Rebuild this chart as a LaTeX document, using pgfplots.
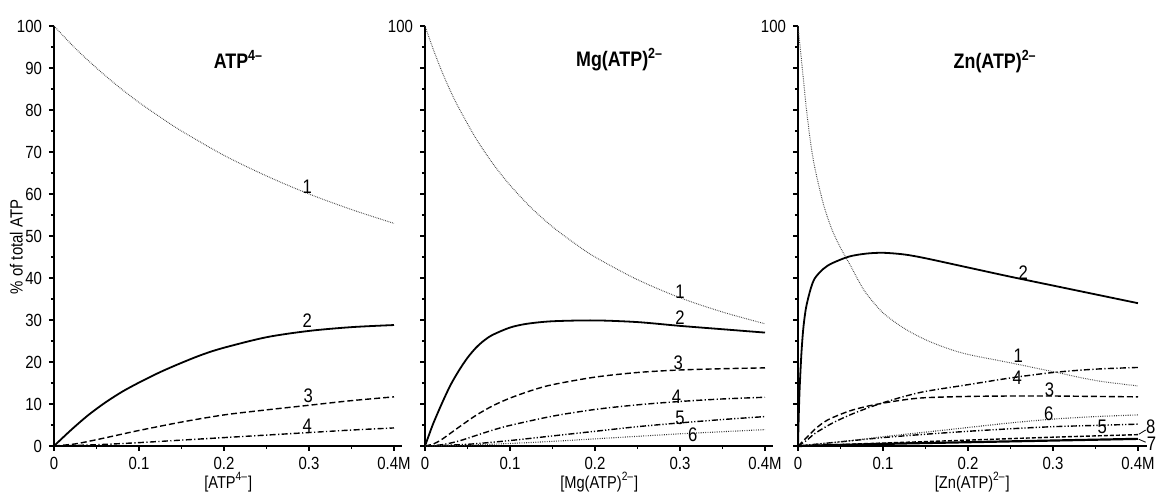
\documentclass[border=0pt]{standalone}
\usepackage{fontspec}
\setmainfont{Liberation Sans}[FakeStretch=0.85]
\usepackage{pgfplots}
\pgfplotsset{compat=1.18}

\tikzset{
  lab/.style={font=\fontsize{9.8}{10}\selectfont, inner sep=0pt},
  ttl/.style={font=\bfseries\fontsize{10.5}{11}\selectfont},
}
\pgfplotsset{
  panel/.style={
    scale only axis, width=174.25pt, height=210pt,
    xmin=0, xmax=0.41, ymin=0, ymax=100,
    axis lines=left, axis line style={-, line width=1pt},
    tick align=outside, major tick length=2.5pt, minor tick length=1.6pt,
    every tick/.style={black, line width=0.7pt},
    xtick={0,0.1,0.2,0.3,0.4}, xticklabels={0,0.1,0.2,0.3,0.4M},
    minor xtick={0.05,0.15,0.25,0.35},
    ytick={0,10,...,100}, minor ytick={5,15,...,95},
    tick label style={font=\fontsize{8.8}{9}\selectfont},
    xticklabel style={inner sep=0.5pt, yshift=-2.5pt},
    /pgf/number format/assume math mode=true,
    clip=false, anchor=south west,
    xlabel style={at={(axis description cs:0.5,-0.086)}, anchor=center, inner sep=0pt, font=\fontsize{8.6}{9}\selectfont},
  },
  c1/.style={black!75, line width=0.5pt, dash pattern=on 0.35pt off 0.55pt, smooth},
  c2/.style={black, line width=0.9pt, smooth},
  c3/.style={black, line width=0.7pt, dash pattern=on 3pt off 1.5pt, smooth},
  c4/.style={black, line width=0.7pt, dash pattern=on 3pt off 1.2pt on 0.6pt off 1.2pt, smooth},
  c5/.style={black, line width=0.7pt, dash pattern=on 3pt off 1pt on 0.6pt off 1pt on 0.6pt off 1pt, smooth},
  c6/.style={black!80, line width=0.55pt, dash pattern=on 0.45pt off 0.7pt, smooth},
  c7/.style={black, line width=1.1pt, smooth},
  c8/.style={black, line width=0.7pt, dash pattern=on 2pt off 1pt, smooth},
}

\begin{document}
\begin{tikzpicture}
\useasboundingbox (0,0) rectangle (578pt,246pt);

% ---------------- ATP4- ----------------
\begin{axis}[panel, at={(27pt,23pt)}, xlabel={[ATP\textsuperscript{4–}]}]
\addplot[c1] coordinates {(0,100)(0.025,94.7)(0.05,90.0)(0.075,85.7)(0.1,81.8)(0.125,78.3)(0.15,75.0)(0.2,69.2)(0.25,64.3)(0.3,60.0)(0.35,56.3)(0.4,53.0)};
\addplot[c2] coordinates {(0,0)(0.02,3.8)(0.04,7.3)(0.06,10.3)(0.08,12.9)(0.1,15.1)(0.125,17.6)(0.15,19.8)(0.175,21.8)(0.2,23.4)(0.25,25.9)(0.3,27.4)(0.35,28.3)(0.4,28.8)};
\addplot[c3] coordinates {(0,0)(0.025,0.5)(0.05,1.5)(0.075,2.6)(0.1,3.7)(0.15,5.7)(0.2,7.4)(0.25,8.6)(0.3,9.7)(0.35,10.8)(0.4,11.7)};
\addplot[c4] coordinates {(0,0)(0.05,0.3)(0.1,0.8)(0.15,1.4)(0.2,2.0)(0.25,2.6)(0.3,3.2)(0.35,3.8)(0.4,4.3)};
\node[lab] at (axis cs:0.298,61.7) {1};
\node[lab] at (axis cs:0.298,29.8) {2};
\node[lab] at (axis cs:0.299,12.0) {3};
\node[lab] at (axis cs:0.298,4.8) {4};
\node[ttl] at (axis cs:0.217,92) {ATP\textsuperscript{4–}};
\node[rotate=90, font=\fontsize{8.8}{9}\selectfont] at (axis description cs:-0.108,0.474) {\% of total ATP};
\end{axis}

% ---------------- Mg(ATP)2- ----------------
\begin{axis}[panel, at={(212.5pt,23pt)}, yticklabels={,,,,,,,,,,100}, xlabel={[Mg(ATP)\textsuperscript{2–}]}]
\addplot[c1] coordinates {(0,100)(0.01,94.3)(0.02,89.1)(0.03,84.5)(0.04,80.4)(0.06,73.2)(0.08,67.2)(0.1,62.1)(0.125,56.7)(0.15,52.2)(0.175,48.4)(0.2,45.0)(0.25,39.6)(0.3,35.3)(0.35,31.9)(0.4,29.1)};
\addplot[c2] coordinates {(0,0)(0.005,2.8)(0.01,5.5)(0.02,10.2)(0.03,14.5)(0.04,18.0)(0.05,21.0)(0.06,23.4)(0.07,25.2)(0.08,26.5)(0.1,28.2)(0.12,29.1)(0.15,29.7)(0.2,29.9)(0.25,29.5)(0.3,28.6)(0.35,27.8)(0.4,27.0)};
\addplot[c3] coordinates {(0,0)(0.01,0.5)(0.02,1.6)(0.04,4.5)(0.06,7.3)(0.08,9.6)(0.1,11.4)(0.125,13.2)(0.15,14.6)(0.2,16.4)(0.25,17.5)(0.3,18.1)(0.35,18.4)(0.4,18.6)};
\addplot[c4] coordinates {(0,0)(0.02,0.3)(0.04,1.2)(0.06,2.5)(0.08,3.8)(0.1,4.9)(0.15,7.1)(0.2,8.7)(0.25,9.8)(0.3,10.6)(0.35,11.2)(0.4,11.6)};
\addplot[c5] coordinates {(0,0)(0.05,0.4)(0.1,1.3)(0.15,2.4)(0.2,3.5)(0.25,4.6)(0.3,5.5)(0.35,6.3)(0.4,7.0)};
\addplot[c6] coordinates {(0,0)(0.05,0.2)(0.1,0.6)(0.15,1.1)(0.2,1.7)(0.25,2.3)(0.3,2.9)(0.35,3.4)(0.4,3.9)};
\node[lab] at (axis cs:0.3,36.7) {1};
\node[lab] at (axis cs:0.3,30.5) {2};
\node[lab] at (axis cs:0.298,19.8) {3};
\node[lab] at (axis cs:0.296,11.7) {4};
\node[lab] at (axis cs:0.3,6.7) {5};
\node[lab] at (axis cs:0.315,2.6) {6};
\node[ttl] at (axis cs:0.229,92) {Mg(ATP)\textsuperscript{2–}};
\end{axis}

% ---------------- Zn(ATP)2- ----------------
\begin{axis}[panel, at={(399pt,23pt)}, yticklabels={,,,,,,,,,,100}, xlabel={[Zn(ATP)\textsuperscript{2–}]}]
\addplot[c1] coordinates {(0,100)(0.002,96)(0.005,90)(0.0075,85)(0.01,80)(0.015,72)(0.02,66)(0.03,57.5)(0.04,51.5)(0.05,47.2)(0.06,43.6)(0.07,39.8)(0.08,36.4)(0.1,31.7)(0.125,28.0)(0.15,25.3)(0.175,23.3)(0.2,21.8)(0.25,19.8)(0.3,17.7)(0.35,15.6)(0.4,14.3)};
\addplot[c2] coordinates {(0,0)(0.001,8)(0.002,14)(0.004,22)(0.006,27.5)(0.008,31)(0.01,33.5)(0.015,37.5)(0.02,40)(0.03,42.2)(0.04,43.5)(0.06,45.1)(0.08,45.8)(0.1,46.0)(0.125,45.6)(0.15,44.7)(0.2,42.5)(0.25,40.3)(0.3,38.2)(0.35,36.1)(0.4,34.0)};
\addplot[c3] coordinates {(0,0)(0.01,2.0)(0.02,4.0)(0.03,5.6)(0.04,6.7)(0.06,8.3)(0.08,9.4)(0.1,10.2)(0.125,11.0)(0.15,11.5)(0.2,11.8)(0.25,11.9)(0.3,11.9)(0.35,11.8)(0.4,11.7)};
\addplot[c4] coordinates {(0,0)(0.01,1.3)(0.02,3.0)(0.04,5.4)(0.06,7.3)(0.08,8.9)(0.1,10.3)(0.125,11.8)(0.15,13.0)(0.2,14.6)(0.25,16.2)(0.3,17.5)(0.35,18.3)(0.4,18.7)};
\addplot[c5] coordinates {(0,0)(0.05,1.0)(0.1,2.0)(0.15,2.8)(0.2,3.5)(0.25,4.1)(0.3,4.6)(0.35,4.9)(0.4,5.2)};
\addplot[c6] coordinates {(0,0)(0.05,1.0)(0.1,2.2)(0.15,3.3)(0.2,4.4)(0.25,5.5)(0.3,6.4)(0.35,7.0)(0.4,7.4)};
\addplot[c7] coordinates {(0,0)(0.1,0.5)(0.2,0.9)(0.3,1.3)(0.4,1.7)};
\addplot[c8] coordinates {(0,0)(0.1,0.7)(0.2,1.4)(0.3,2.1)(0.4,2.7)};
\node[lab] at (axis cs:0.265,41.2) {2};
\node[lab] at (axis cs:0.259,21.4) {1};
\node[lab] at (axis cs:0.258,16.2) {4};
\node[lab] at (axis cs:0.296,13.3) {3};
\node[lab] at (axis cs:0.295,7.6) {6};
\node[lab] at (axis cs:0.358,4.5) {5};
\node[lab] at (axis cs:0.415,4.6) {8};
\node[lab] at (axis cs:0.416,0.6) {7};
\draw[black, line width=0.4pt] (axis cs:0.401,2.8) -- (axis cs:0.409,3.8);
\draw[black, line width=0.4pt] (axis cs:0.401,1.6) -- (axis cs:0.409,0.9);
\node[ttl] at (axis cs:0.232,91.5) {Zn(ATP)\textsuperscript{2–}};
\end{axis}
\end{tikzpicture}
\end{document}
